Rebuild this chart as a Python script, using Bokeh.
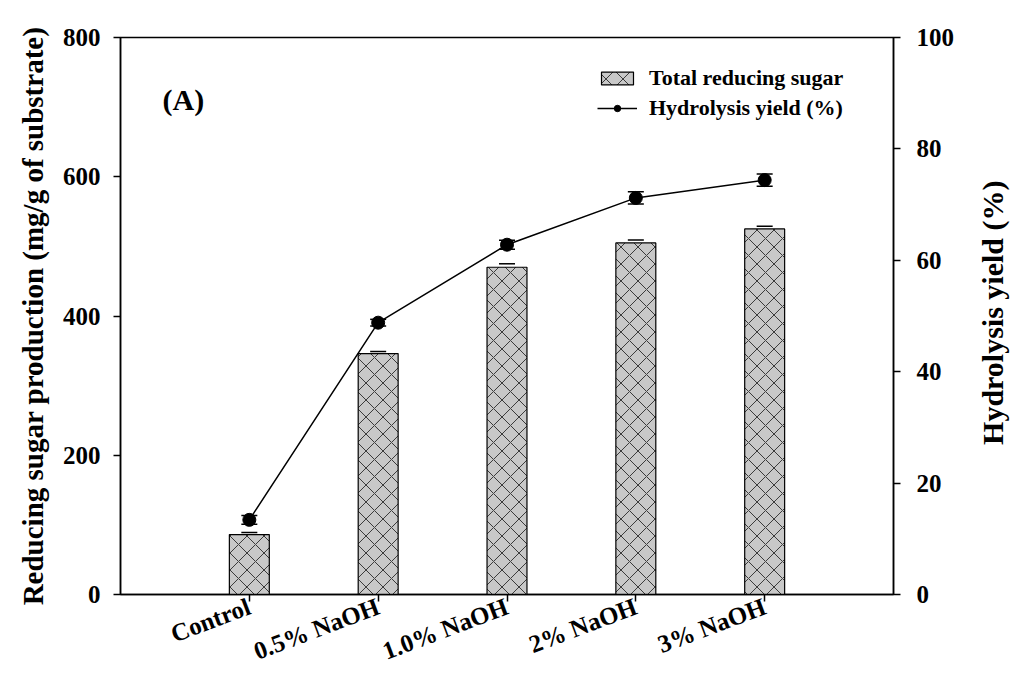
import math
from bokeh.plotting import figure
from bokeh.layouts import row
from bokeh.models import (Range1d, LinearAxis, FixedTicker, Whisker, ColumnDataSource,
                          Legend, LegendItem, Label, TeeHead)
from bokeh.core.properties import value
from bokeh.embed import file_html
from bokeh.resources import INLINE

categories = ["Control", "0.5% NaOH", "1.0% NaOH", "2% NaOH", "3% NaOH"]
sugar = [86, 346, 470, 505, 525]
sugar_err = [3, 3, 5, 4, 4]
yield_pct = [13.4, 48.8, 62.8, 71.2, 74.4]
yield_err = [0.8, 0.6, 0.8, 1.1, 1.1]
right_title = "Hydrolysis yield (%)"

xpos = list(range(1, len(categories) + 1))
FONT = "Liberation Serif"

p = figure(width=974, height=680, x_range=Range1d(0, 6), y_range=Range1d(0, 800),
           output_backend="svg", toolbar_location=None,
           min_border_left=120, min_border_right=81, min_border_top=37, min_border_bottom=84)
p.extra_y_ranges = {"yld": Range1d(0, 100)}
p.grid.visible = False
p.outline_line_color = "black"
p.outline_line_width = 1.5
p.background_fill_color = "white"

bar_src = ColumnDataSource(dict(x=xpos, top=sugar, upper=[s + e for s, e in zip(sugar, sugar_err)],
                                lower=[s - e for s, e in zip(sugar, sugar_err)]))
bars = p.vbar(x="x", top="top", width=0.31, source=bar_src, fill_color="#c8c8c8",
              line_color="black", line_width=1.2, hatch_pattern="diagonal_cross",
              hatch_color="#3a3a3a", hatch_scale=17, hatch_weight=1)
p.add_layout(Whisker(source=bar_src, base="x", upper="upper", lower="upper",
                     line_color="black", line_width=1.2,
                     upper_head=TeeHead(size=16, line_width=1.5), lower_head=None))

ln_src = ColumnDataSource(dict(x=xpos, y=yield_pct,
                               upper=[v + e for v, e in zip(yield_pct, yield_err)],
                               lower=[v - e for v, e in zip(yield_pct, yield_err)]))
line = p.line("x", "y", source=ln_src, y_range_name="yld", line_color="black", line_width=1.5)
dots = p.scatter("x", "y", source=ln_src, y_range_name="yld", size=13,
                 fill_color="black", line_color="black")
p.add_layout(Whisker(source=ln_src, base="x", upper="upper", lower="lower", y_range_name="yld",
                     line_color="black", line_width=1.5,
                     upper_head=TeeHead(size=16, line_width=1.5),
                     lower_head=TeeHead(size=16, line_width=1.5)))

def style_axis(ax, size="25px"):
    ax.major_label_text_font = FONT
    ax.major_label_text_font_style = "bold"
    ax.major_label_text_font_size = size
    ax.major_label_text_color = "black"
    ax.axis_label_text_font = FONT
    ax.axis_label_text_font_style = "bold"
    ax.axis_label_text_font_size = "29px"
    ax.axis_label_text_color = "black"
    ax.axis_line_color = "black"
    ax.axis_line_width = 1.5
    ax.major_tick_line_color = "black"
    ax.major_tick_line_width = 1.5
    ax.major_tick_in = 0
    ax.major_tick_out = 7
    ax.minor_tick_line_color = None

ya = p.yaxis[0]
style_axis(ya)
ya.ticker = FixedTicker(ticks=[0, 200, 400, 600, 800])
ya.axis_label = "Reducing sugar production (mg/g of substrate)"
ya.major_label_standoff = 13
ya.axis_label_standoff = 11

xa = p.xaxis[0]
style_axis(xa, "25px")
xa.ticker = FixedTicker(ticks=xpos)
xa.major_label_overrides = {x: c for x, c in zip(xpos, categories)}
xa.major_label_orientation = 0.36
xa.major_label_standoff = 4

ry = LinearAxis(y_range_name="yld")
style_axis(ry)
ry.ticker = FixedTicker(ticks=[0, 20, 40, 60, 80, 100])
ry.major_label_standoff = 16
p.add_layout(ry, "right")

p.add_layout(Label(x=42, y=495, x_units="screen", y_units="screen", text="(A)",
                   text_font=FONT, text_font_style="bold", text_font_size="30px",
                   text_baseline="middle", text_color="black"))

legend = Legend(items=[LegendItem(label="Total reducing sugar", renderers=[bars]),
                       LegendItem(label="Hydrolysis yield (%)", renderers=[line, dots])],
                location=(477, 473), background_fill_alpha=0, border_line_color=None,
                padding=0, margin=0, spacing=4, glyph_width=40, glyph_height=16,
                label_standoff=12, label_text_font=FONT, label_text_font_style="bold",
                label_text_font_size="22px", label_text_color="black")
p.add_layout(legend)

# side strip carrying the right axis title (reads bottom to top)
side = figure(width=36, height=680, x_range=Range1d(0, 1), y_range=Range1d(0, 680),
              output_backend="svg", toolbar_location=None,
              min_border_left=0, min_border_right=0, min_border_top=0, min_border_bottom=0)
side.axis.visible = False
side.grid.visible = False
side.outline_line_color = None
side.text(x=[0.5], y=[680 - 336], text=[right_title], angle=math.pi / 2,
          text_font=value(FONT), text_font_style="bold", text_font_size="30px",
          text_align="center", text_baseline="middle", text_color="black")

layout = row(p, side, spacing=0)
open("out.html", "w").write(file_html(layout, INLINE))
